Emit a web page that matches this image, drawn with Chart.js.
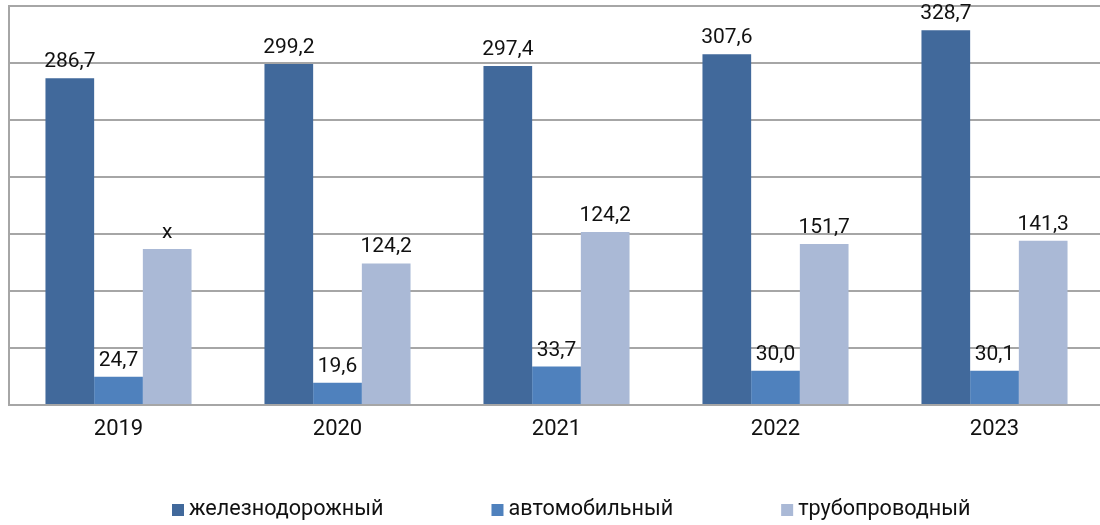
<!DOCTYPE html>
<html>
<head>
<meta charset="utf-8">
<script src="https://cdn.jsdelivr.net/npm/chart.js@4.4.1/dist/chart.umd.min.js"></script>
<style>
  html, body { margin: 0; padding: 0; background: #fff; overflow: hidden; }
  #wrap { position: relative; width: 1104px; height: 525px; }
</style>
</head>
<body>
<div id="wrap"><canvas id="c"></canvas></div>
<script>
// ---- data ----
const categories = ['2019', '2020', '2021', '2022', '2023'];
const seriesNames = ['железнодорожный', 'автомобильный', 'трубопроводный'];
const railValues = [286.7, 299.2, 297.4, 307.6, 328.7];
const autoValues = [24.7, 19.6, 33.7, 30.0, 30.1];
const pipeValues = [136.8, 124.2, 151.7, 141.3, 144.1];   // bar heights as drawn
const pipeLabels = ['x', '124,2', '124,2', '151,7', '141,3']; // labels as printed
const yTicks = { min: 0, max: 350, step: 50 };

const fmt = v => v.toFixed(1).replace('.', ',');
const railLabels = railValues.map(fmt);
const autoLabels = autoValues.map(fmt);

const colors = ['#41699b', '#4f81bd', '#aab9d6'];
const FONT = 'Roboto, "Liberation Sans", Arial, sans-serif';

const valueLabelPlugin = {
  id: 'valueLabels',
  afterDatasetsDraw(chart) {
    const ctx = chart.ctx;
    const texts = [railLabels, autoLabels, pipeLabels];
    ctx.save();
    ctx.font = '21px ' + FONT;
    ctx.fillStyle = '#111';
    ctx.textAlign = 'center';
    ctx.textBaseline = 'alphabetic';
    chart.data.datasets.forEach((ds, di) => {
      const meta = chart.getDatasetMeta(di);
      meta.data.forEach((bar, i) => {
        ctx.fillText(texts[di][i], bar.x, bar.y - 11);
      });
    });
    ctx.restore();
  }
};

const legendPlugin = {
  id: 'customLegend',
  afterDraw(chart) {
    const ctx = chart.ctx;
    ctx.save();
    ctx.font = '21.6px ' + FONT;
    ctx.textBaseline = 'middle';
    ctx.textAlign = 'left';
    let x = 172;
    const yMid = 510;
    const gap = 108;
    chart.data.datasets.forEach((ds, i) => {
      ctx.fillStyle = ds.backgroundColor;
      ctx.fillRect(x, yMid - 6, 12, 12);
      ctx.fillStyle = '#111';
      ctx.fillText(ds.label, x + 17, yMid);
      x += 17 + ctx.measureText(ds.label).width + gap;
    });
    ctx.restore();
  }
};

new Chart(document.getElementById('c'), {
  type: 'bar',
  data: {
    labels: categories,
    datasets: [
      { label: seriesNames[0], data: railValues, backgroundColor: colors[0] },
      { label: seriesNames[1], data: autoValues, backgroundColor: colors[1] },
      { label: seriesNames[2], data: pipeValues, backgroundColor: colors[2] }
    ]
  },
  options: {
    responsive: true,
    maintainAspectRatio: false,
    animation: false,
    layout: { padding: { left: 9, top: 6, right: 0, bottom: 0 } },
    datasets: { bar: { categoryPercentage: 0.667, barPercentage: 1.0 } },
    plugins: { legend: { display: false }, tooltip: { enabled: false } },
    scales: {
      x: {
        grid: { display: false, drawTicks: false },
        border: { display: true, color: '#a6a6a6', width: 2 },
        ticks: { font: { family: FONT, size: 22 }, color: '#111', padding: 11 },
        afterFit(scale) { scale.height = 120; }
      },
      y: {
        min: yTicks.min, max: yTicks.max,
        grid: { color: '#a6a6a6', lineWidth: 2, drawTicks: false },
        border: { display: true, color: '#a6a6a6', width: 2 },
        ticks: { display: false, stepSize: yTicks.step },
        afterFit(scale) { scale.width = 0; }
      }
    }
  },
  plugins: [valueLabelPlugin, legendPlugin]
});
</script>
</body>
</html>
